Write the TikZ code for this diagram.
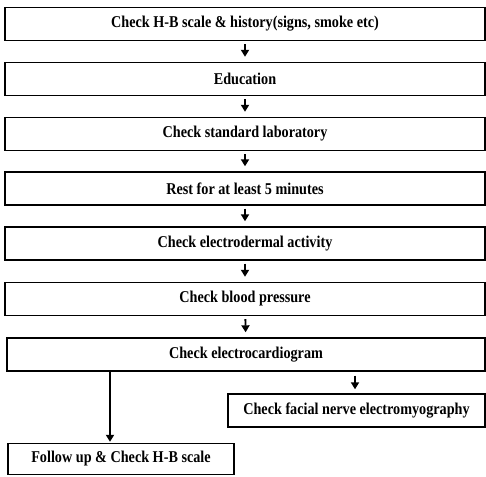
\documentclass[tikz,border=0pt]{standalone}
\usepackage{fontspec}
\setmainfont{Liberation Serif}[FakeStretch=0.86]
\usetikzlibrary{arrows.meta}

\begin{document}
\begin{tikzpicture}[x=1pt, y=-1pt, >={Triangle[width=8pt,length=7pt]},
    stepbox/.style={draw, line width=1.4pt, inner sep=0pt,
        font=\bfseries\fontsize{16.5}{18}\selectfont},
    wide/.style={stepbox, minimum width=480pt, minimum height=33pt}]
                \useasboundingbox (0,0) rectangle (486,476);

                % Define the coordinates
                \coordinate (lx) at (110,0);
                \coordinate (rx) at (355,0);

                % Draw the main steps
                \node[wide] (hist) at (245,24) {Check H-B scale \& history(signs, smoke etc)};
                \node[wide] (edu) at (245,79) {Education};
                \node[wide] (lab) at (245,134) {Check standard laboratory};
                \node[wide] (rest) at (245,188.5) {Rest for at least 5 minutes};
                \node[wide] (eda) at (245,243.5) {Check electrodermal activity};
                \node[wide] (bp) at (245,299) {Check blood pressure};
                \node[stepbox, minimum width=478pt, minimum height=33pt] (ecg) at (246,354.5) {Check electrocardiogram};

                % Draw the last two steps
                \node[stepbox, minimum width=257pt, minimum height=33pt] (emg) at (356.5,410.5) {Check facial nerve electromyography};
                \node[stepbox, minimum width=226pt, minimum height=31pt] (fu) at (121,459) {Follow up \& Check H-B scale};

                % Draw the arrows
                \draw[->, line width=1.8pt, shorten <=3pt, shorten >=5pt] (hist) -- (edu);
                \draw[->, line width=1.8pt, shorten <=3pt, shorten >=5pt] (edu) -- (lab);
                \draw[->, line width=1.8pt, shorten <=3pt, shorten >=5pt] (lab) -- (rest);
                \draw[->, line width=1.8pt, shorten <=3pt, shorten >=5pt] (rest) -- (eda);
                \draw[->, line width=1.8pt, shorten <=3pt, shorten >=5pt] (eda) -- (bp);
                \draw[->, line width=1.8pt, shorten <=3pt, shorten >=5pt] (bp) -- (ecg);
                \draw[->, line width=1.8pt, shorten <=4pt, shorten >=4pt] (ecg.south -| rx) -- (emg.north -| rx);
                \draw[->, line width=2.2pt, shorten >=1pt] (ecg.south -| lx) -- (fu.north -| lx);
              \end{tikzpicture}
\end{document}
